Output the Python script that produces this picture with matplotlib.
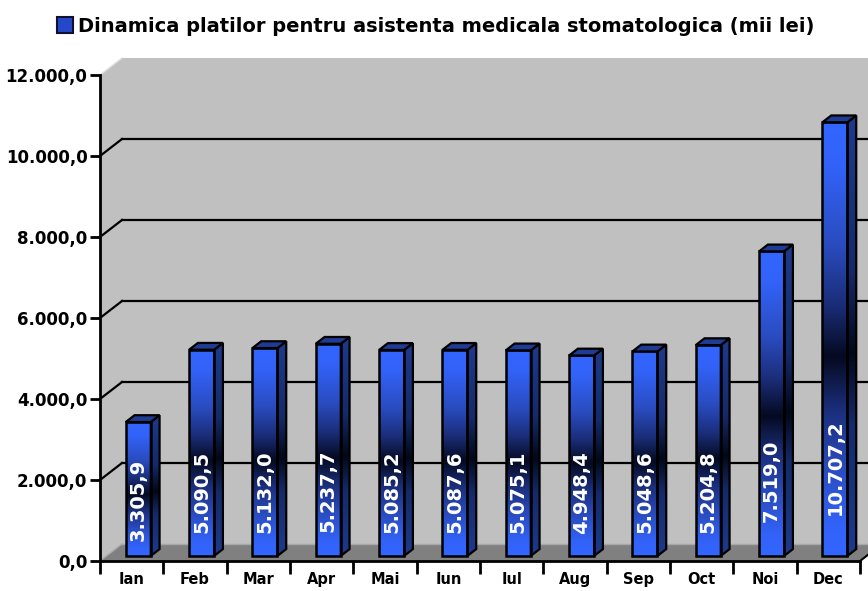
import matplotlib
matplotlib.use("Agg")
import matplotlib.pyplot as plt
import numpy as np
from matplotlib.patches import Polygon, Rectangle
from matplotlib.colors import LinearSegmentedColormap
from matplotlib.ticker import FuncFormatter, FixedLocator

# ---- data ----
months = ["Ian", "Feb", "Mar", "Apr", "Mai", "Iun", "Iul", "Aug", "Sep", "Oct", "Noi", "Dec"]
values = [3305.9, 5090.5, 5132.0, 5237.7, 5085.2, 5087.6, 5075.1, 4948.4, 5048.6, 5204.8, 7519.0, 10707.2]
title = "Dinamica platilor pentru asistenta medicala stomatologica (mii lei)"
ymax = 12000
ystep = 2000

def fmt(v, pos=None):
    s = f"{v:,.1f}"
    return s.replace(",", "X").replace(".", ",").replace("X", ".")

W, H = 868, 591
fig = plt.figure(figsize=(W / 100, H / 100), dpi=100)
ax = fig.add_axes([100 / W, 30 / H, 760 / W, 486 / H])
n = len(months)
ax.set_xlim(-0.5, n - 0.5)
ax.set_ylim(0, ymax)
ax.patch.set_visible(False)

# depth in data units (px -> data)
px_x = 760 / n          # px per category
px_y = 486 / ymax       # px per value unit
dx = 22 / px_x
dy = 17 / px_y

wall_c = "#c0c0c0"
floor_c = "#808080"

# side wall
ax.add_patch(Polygon([(-0.5, 0), (-0.5, ymax), (-0.5 + dx, ymax + dy), (-0.5 + dx, dy)],
                     closed=True, facecolor=wall_c, edgecolor="none", zorder=0.3, clip_on=False))
# back wall
ax.add_patch(Polygon([(-0.5 + dx, dy), (-0.5 + dx, ymax + dy), (n - 0.5 + dx, ymax + dy), (n - 0.5 + dx, dy)],
                     closed=True, facecolor=wall_c, edgecolor="none", zorder=0.3, clip_on=False))
ax.plot([-0.5, -0.5 + dx], [ymax, ymax + dy], color="#e0e0e0", lw=1, zorder=0.4, clip_on=False)
# floor
ax.add_patch(Polygon([(-0.5, 0), (n - 0.5, 0), (n - 0.5 + dx, dy), (-0.5 + dx, dy)],
                     closed=True, facecolor=floor_c, edgecolor="none", zorder=0.5, clip_on=False))
ax.plot([-0.5 + dx, n - 0.5 + dx], [dy, dy], color="#a8a8a8", lw=1, zorder=0.55, clip_on=False)
ax.plot([-0.5, -0.5 + dx], [0, dy], color="#a8a8a8", lw=1, zorder=0.55, clip_on=False)
ax.plot([n - 0.5, n - 0.5 + dx], [0, dy], color="black", lw=1.5, zorder=0.6, clip_on=False)

# gridlines
for g in range(ystep, ymax, ystep):
    ax.plot([-0.5 + dx, n - 0.5 + dx], [g + dy, g + dy], color="black", lw=1.6, zorder=0.6, clip_on=False)
    ax.plot([-0.5, -0.5 + dx], [g, g + dy], color="black", lw=1.6, zorder=0.6, clip_on=False)

# bar colormaps (bright ends, dark navy centre)
front_cmap = LinearSegmentedColormap.from_list("front", [
    (0.0, "#3366ff"), (0.1, "#3262f8"), (0.28, "#2a4cc0"), (0.42, "#1a2d78"),
    (0.54, "#050a20"), (0.66, "#1a2d78"), (0.8, "#2a4cc0"), (0.93, "#3262f8"), (1.0, "#3366ff")])
side_cmap = LinearSegmentedColormap.from_list("side", [
    (0.0, "#1e3a8c"), (0.35, "#152a6a"), (0.54, "#030818"),
    (0.7, "#152a6a"), (1.0, "#1e3a8c")])
grad = np.linspace(0, 1, 256).reshape(-1, 1)

bw = 25 / px_x
f0, f1 = 0.3, 0.7
bdx, bdy = (f1 - f0) * dx, (f1 - f0) * dy
for i, v in enumerate(values):
    x0 = i - bw / 2 + f0 * dx
    x1 = x0 + bw
    y0 = f0 * dy
    y1 = v + f0 * dy
    ax.imshow(grad, cmap=front_cmap, extent=[x0, x1, y0, y1], origin="upper",
              aspect="auto", zorder=2, interpolation="bilinear")
    ax.add_patch(Rectangle((x0, y0), bw, v, facecolor="none", edgecolor="black", lw=1.8, zorder=2.2))
    side = Polygon([(x1, y0), (x1 + bdx, y0 + bdy), (x1 + bdx, y1 + bdy), (x1, y1)],
                   closed=True, facecolor="none", edgecolor="black", lw=1.6, zorder=2.2)
    im = ax.imshow(grad, cmap=side_cmap, extent=[x1, x1 + bdx, y0, y1 + bdy], origin="upper",
                   aspect="auto", zorder=2, interpolation="bilinear")
    ax.add_patch(side)
    im.set_clip_path(side)
    ax.add_patch(Polygon([(x0, y1), (x1, y1), (x1 + bdx, y1 + bdy), (x0 + bdx, y1 + bdy)],
                         closed=True, facecolor="#1f3b94", edgecolor="black", lw=1.6, zorder=2.2,
                         clip_on=False))
    ax.text(x0 + bw / 2, 1150 + 0.11 * v, fmt(v), rotation=90, ha="center", va="center",
            color="white", fontsize=14, fontweight="bold", zorder=3)

ax.set_xlim(-0.5, n - 0.5)
ax.set_ylim(0, ymax)

for s in ["top", "right"]:
    ax.spines[s].set_visible(False)
for s in ["left", "bottom"]:
    ax.spines[s].set_linewidth(2)
    ax.spines[s].set_zorder(4)
ax.set_yticks(np.arange(0, ymax + 1, ystep))
ax.yaxis.set_major_formatter(FuncFormatter(fmt))
ax.tick_params(axis="y", direction="out", length=7, width=2, pad=2, labelsize=12)
for t in ax.get_yticklabels():
    t.set_fontweight("bold")
ax.xaxis.set_major_locator(FixedLocator(np.arange(-0.5, n, 1)))
ax.xaxis.set_minor_locator(FixedLocator(np.arange(n)))
ax.set_xticklabels([], minor=False)
ax.set_xticklabels(months, minor=True, fontweight="bold", fontsize=10.5)
ax.tick_params(axis="x", which="major", direction="out", length=9, width=2)
ax.tick_params(axis="x", which="minor", length=0, pad=8)

fig.patches.append(Rectangle((57 / W, 1 - 33 / H), 16 / W, 16 / H, transform=fig.transFigure,
                             facecolor="#2448c8", edgecolor="#101030", lw=1.5))
fig.text(78 / W, 1 - 26 / H, title, ha="left", va="center", fontsize=14, fontweight="bold")

fig.savefig("out.png", dpi=100)
